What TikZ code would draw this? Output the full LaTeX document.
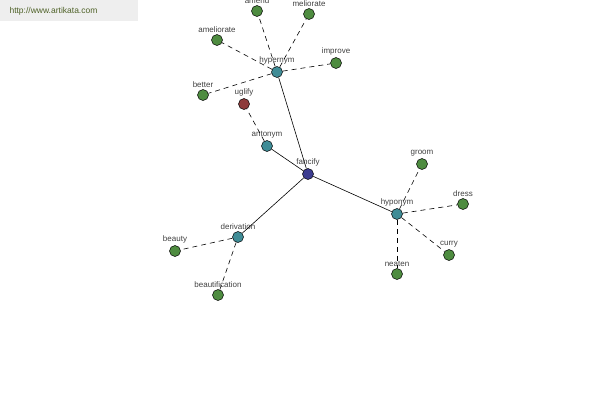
\documentclass[tikz,border=0pt]{standalone}
\usepackage{fontspec}
\setmainfont{Liberation Sans}
\definecolor{leafg}{HTML}{4E8C40}
\definecolor{relt}{HTML}{3F8C96}
\definecolor{rootb}{HTML}{3C3C90}
\definecolor{antr}{HTML}{8E3B3B}
\definecolor{lbl}{HTML}{404040}
\definecolor{wm}{HTML}{EEEEEE}
\definecolor{wmt}{HTML}{4F6228}
\begin{document}
\begin{tikzpicture}[x=1pt,y=-1pt,
  dot/.style={circle,draw=black,line width=0.5pt,minimum size=11pt,inner sep=0pt},
  leaf/.style={dot,fill=leafg},
  rel/.style={dot,fill=relt},
  lab/.style={label={[text=lbl,font=\fontsize{8}{9}\selectfont,inner sep=0pt,yshift=1.5pt]above:#1}},
  solidedge/.style={draw=black,line width=0.6pt},
  dashedge/.style={draw=black,line width=0.6pt,dash pattern=on 5pt off 4pt}]
\useasboundingbox (0,0) rectangle (600,400);
\fill[wm] (0,0) rectangle (138,21);
\node[text=wmt,font=\fontsize{8.5}{9}\selectfont,anchor=west] (wmtext) at (6,11) {http://www.artikata.com};
% nodes
\node[dot,fill=rootb,lab=fancify] (fancify) at (308,174) {};
\node[rel,lab=hypernym] (hypernym) at (277,72) {};
\node[rel,lab=antonym] (antonym) at (267,146) {};
\node[rel,lab=hyponym] (hyponym) at (397,214) {};
\node[rel,lab=derivation] (derivation) at (238,237) {};
\node[dot,fill=antr,lab=uglify] (uglify) at (244,104) {};
\node[leaf,lab=amend] (amend) at (257,11) {};
\node[leaf,lab=meliorate] (meliorate) at (309,14) {};
\node[leaf,lab=ameliorate] (ameliorate) at (217,40) {};
\node[leaf,lab=improve] (improve) at (336,63) {};
\node[leaf,lab=better] (better) at (203,95) {};
\node[leaf,lab=groom] (groom) at (422,164) {};
\node[leaf,lab=dress] (dress) at (463,204) {};
\node[leaf,lab=curry] (curry) at (449,255) {};
\node[leaf,lab=neaten] (neaten) at (397,274) {};
\node[leaf,lab=beauty] (beauty) at (175,251) {};
\node[leaf,lab=beautification] (beautification) at (218,295) {};
% edges
\draw[solidedge] (fancify) -- (hypernym);
\draw[solidedge] (fancify) -- (antonym);
\draw[solidedge] (fancify) -- (hyponym);
\draw[solidedge] (fancify) -- (derivation);
\draw[dashedge] (hypernym) -- (amend);
\draw[dashedge] (hypernym) -- (meliorate);
\draw[dashedge] (hypernym) -- (ameliorate);
\draw[dashedge] (hypernym) -- (improve);
\draw[dashedge] (hypernym) -- (better);
\draw[dashedge] (antonym) -- (uglify);
\draw[dashedge] (hyponym) -- (groom);
\draw[dashedge] (hyponym) -- (dress);
\draw[dashedge] (hyponym) -- (curry);
\draw[dashedge] (hyponym) -- (neaten);
\draw[dashedge] (derivation) -- (beauty);
\draw[dashedge] (derivation) -- (beautification);
\end{tikzpicture}
\end{document}
